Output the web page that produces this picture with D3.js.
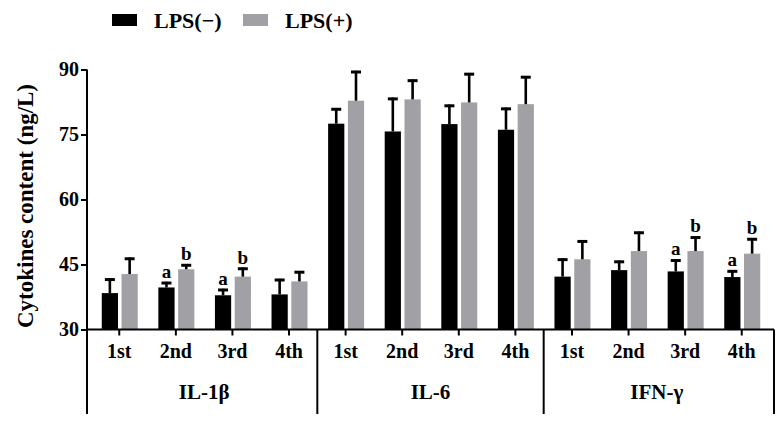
<!DOCTYPE html>
<html lang="en">
<head>
	<meta charset="UTF-8">
	<title>Cytokines content</title>
	<script src="https://cdnjs.cloudflare.com/ajax/libs/d3/7.8.5/d3.min.js"></script>
	<style>
		body { margin: 0; background: #fff; }
		text { font-family: "Liberation Serif", "Times New Roman", serif; font-weight: bold; fill: #000; }
	</style>
</head>
<body>
	<svg id="chart"></svg>
	<script>
var groups = ["IL-1\u03b2", "IL-6", "IFN-\u03b3"]
var rounds = ["1st", "2nd", "3rd", "4th"]
var series = ["LPS(\u2212)", "LPS(+)"]
var colors = ["#000000", "#a1a1a5"]

// values per group x round, in ng/L
var lpsNeg = [38.4, 39.7, 37.9, 38.1, 77.5, 75.7, 77.4, 76.1, 42.2, 43.7, 43.4, 42.1]
var lpsNegErr = [3.4, 1.3, 1.5, 3.6, 3.6, 7.8, 4.5, 5.1, 4.2, 2.2, 2.8, 1.6]
var lpsPos = [42.8, 43.9, 42.2, 41.1, 82.8, 83.1, 82.4, 82.0, 46.2, 48.1, 48.1, 47.5]
var lpsPosErr = [3.8, 1.2, 2.1, 2.4, 6.9, 4.6, 6.8, 6.5, 4.4, 4.5, 3.4, 3.6]
var negMarks = ["", "a", "a", "", "", "", "", "", "", "", "a", "a"]
var posMarks = ["", "b", "b", "", "", "", "", "", "", "", "b", "b"]

var yTicks = [30, 45, 60, 75, 90]

var W = 784, H = 424
var left = 87, right = 774, yTop = 69.5, base = 329.5

var svg = d3.select("#chart")
  .attr("width", W)
  .attr("height", H)

var cats = []
groups.forEach(function(g) {
  rounds.forEach(function(r) { cats.push(g + "|" + r) })
})

var rows = cats.map(function(c, i) {
  return {
    key: c,
    vals: [
      {s: 0, v: lpsNeg[i], e: lpsNegErr[i], m: negMarks[i]},
      {s: 1, v: lpsPos[i], e: lpsPosErr[i], m: posMarks[i]}
    ]
  }
})

var x = d3.scaleBand()
  .domain(cats)
  .range([left, right])
  .paddingInner(0)
  .paddingOuter(0.07)

var xs = d3.scaleBand()
  .domain([0, 1])
  .range([-17.5, 18.5])
  .paddingInner(0.18)

var y = d3.scaleLinear()
  .domain([30, 90])
  .range([base, yTop])

function cx(k) { return x(k) + x.bandwidth() / 2 }
function mid(d) { return xs(d.s) + xs.bandwidth() / 2 }

// bars
var cat = svg.selectAll("g.cat")
  .data(rows).enter()
  .append("g")
  .attr("class", "cat")
  .attr("transform", function(d) { return "translate(" + cx(d.key) + ",0)" })

cat.selectAll("rect")
  .data(function(d) { return d.vals }).enter()
  .append("rect")
  .attr("x", function(d) { return xs(d.s) })
  .attr("width", xs.bandwidth())
  .attr("y", function(d) { return y(d.v) })
  .attr("height", function(d) { return y(30) - y(d.v) })
  .attr("fill", function(d) { return colors[d.s] })

// upper error bars
cat.selectAll("line.stem")
  .data(function(d) { return d.vals }).enter()
  .append("line")
  .attr("class", "stem")
  .attr("x1", mid)
  .attr("x2", mid)
  .attr("y1", function(d) { return y(d.v) })
  .attr("y2", function(d) { return y(d.v + d.e) })
  .attr("stroke", "#000")
  .attr("stroke-width", 2.6)

cat.selectAll("line.cap")
  .data(function(d) { return d.vals }).enter()
  .append("line")
  .attr("class", "cap")
  .attr("x1", function(d) { return mid(d) - 5 })
  .attr("x2", function(d) { return mid(d) + 5 })
  .attr("y1", function(d) { return y(d.v + d.e) + 1.2 })
  .attr("y2", function(d) { return y(d.v + d.e) + 1.2 })
  .attr("stroke", "#000")
  .attr("stroke-width", 3)

cat.selectAll("text.mark")
  .data(function(d) { return d.vals.filter(function(v) { return v.m }) }).enter()
  .append("text")
  .attr("class", "mark")
  .attr("x", mid)
  .attr("y", function(d) { return y(d.v + d.e) - 4 })
  .attr("text-anchor", "middle")
  .style("font-size", "19px")
  .text(function(d) { return d.m })

// y axis
var yAxis = svg.append("g")
  .attr("transform", "translate(" + left + ",0)")
  .call(d3.axisLeft(y).tickValues(yTicks).tickSize(6).tickPadding(2))

yAxis.select(".domain").attr("stroke-width", 2).attr("d", "M0," + yTop + "V" + 414)
yAxis.selectAll(".tick line").attr("stroke-width", 2)
yAxis.selectAll(".tick text")
  .style("font-size", "20px")
  .style("font-family", "Liberation Serif")
  .style("font-weight", "bold")
  .attr("fill", "#000")

svg.append("text")
  .attr("transform", "translate(33,206) rotate(-90)")
  .attr("text-anchor", "middle")
  .style("font-size", "23px")
  .text("Cytokines content (ng/L)")

// x axis
var xAxis = svg.append("g")
  .attr("transform", "translate(0," + base + ")")
  .call(d3.axisBottom(x).tickSize(6).tickPadding(8).tickFormat(function(d) { return d.split("|")[1] }))

xAxis.select(".domain").attr("stroke-width", 2).attr("d", "M" + left + ",0H" + right)
xAxis.selectAll(".tick line").attr("stroke-width", 2)
xAxis.selectAll(".tick text")
  .style("font-size", "20px")
  .style("font-family", "Liberation Serif")
  .style("font-weight", "bold")
  .attr("fill", "#000")

// group separators and names
var seps = []
for (var g = 1; g < groups.length; g++) {
  seps.push((cx(cats[g * 4 - 1]) + cx(cats[g * 4])) / 2)
}
seps.push(right)

svg.selectAll("line.sep")
  .data(seps).enter()
  .append("line")
  .attr("class", "sep")
  .attr("x1", function(d) { return d })
  .attr("x2", function(d) { return d })
  .attr("y1", base)
  .attr("y2", 414)
  .attr("stroke", "#000")
  .attr("stroke-width", 2)

svg.selectAll("text.group")
  .data(groups).enter()
  .append("text")
  .attr("class", "group")
  .attr("x", function(d, i) { return (cx(cats[i * 4]) + cx(cats[i * 4 + 3])) / 2 })
  .attr("y", 399)
  .attr("text-anchor", "middle")
  .style("font-size", "21px")
  .text(function(d) { return d })

// legend
var legX = [112, 243]
var leg = svg.selectAll("g.leg")
  .data(series).enter()
  .append("g")
  .attr("class", "leg")
  .attr("transform", function(d, i) { return "translate(" + legX[i] + ",14)" })

leg.append("rect")
  .attr("width", 25)
  .attr("height", 12)
  .attr("fill", function(d, i) { return colors[i] })

leg.append("text")
  .attr("x", 42)
  .attr("y", 14)
  .style("font-size", "22px")
  .text(function(d) { return d })
	</script>
</body>
</html>
